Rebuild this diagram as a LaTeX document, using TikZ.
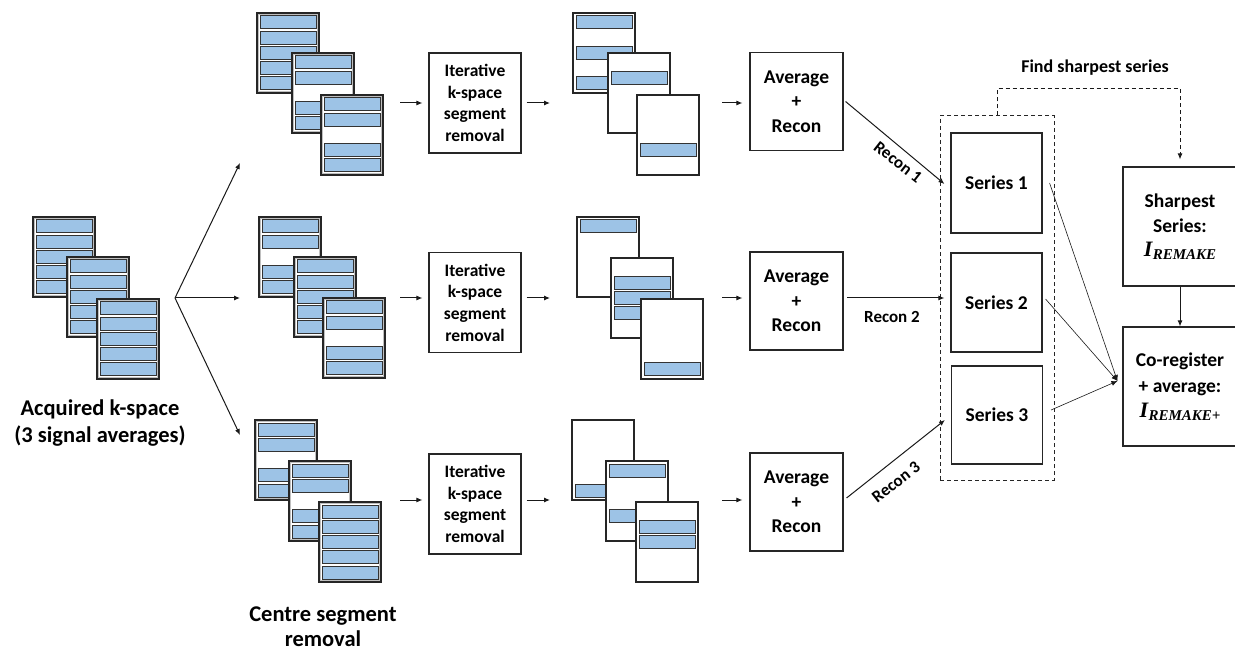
\documentclass[tikz,border=0pt]{standalone}
\usepackage{fontspec}
\setmainfont{Carlito}
\newfontfamily\tnr{Liberation Serif}
\usetikzlibrary{arrows.meta,calc}
\definecolor{kblue}{HTML}{9DC3E6}
\tikzset{
  stripe/.style={draw=black!80, line width=1pt, fill=kblue},
  pgborder/.style={draw=black!85, line width=1.1pt},
  pginner/.style={draw=gray!50, line width=1.5pt},
  box/.style={draw=black!85, line width=1.1pt, fill=white, align=center, inner sep=0pt, font=\bfseries},
  arr/.style={-{Latex[length=6pt,width=5pt]}, line width=1pt, black!90},
  thinarr/.style={-{Latex[length=6pt,width=5pt]}, line width=0.6pt, black!90},
  lbl/.style={font=\bfseries, align=center, inner sep=0pt},
  dashline/.style={dash pattern=on 4pt off 3pt},
}
% #1 x, #2 y (top-left), #3 stripe list, #4 1 = double border
\newcommand{\kpg}[4]{%
  \fill[white] (#1,#2) rectangle ++(62,80);
  \ifnum#4=1 \draw[pginner] (#1+1.6,#2+1.6) rectangle ++(58.8,76.8);\fi
  \foreach \k in {#3} {\draw[stripe] (#1+3,#2+3+15.25*\k-15.25) rectangle ++(56,13);}
  \draw[pgborder] (#1,#2) rectangle ++(62,80);
}
\newcommand{\iremake}[1]{{\tnr\bfseries\itshape\fontsize{22}{22}\selectfont I\kern0.5pt\raisebox{-3.5pt}{\fontsize{15}{15}\selectfont REMAKE#1}}}
\begin{document}
\begin{tikzpicture}[x=1pt,y=-1pt]
\useasboundingbox (0,0) rectangle (1235,652);

% acquired stack
\kpg{33}{217}{1,2,3,4,5}{1}
\kpg{67}{257}{1,2,3,4,5}{1}
\kpg{97}{299}{1,2,3,4,5}{1}
\node[lbl, font=\bfseries\fontsize{22.5}{27}\selectfont] (acq) at (100,423) {Acquired k-space\\(3 signal averages)};

% fork
\coordinate (fk) at (175,298);
\coordinate (f1) at (240,163);
\coordinate (f2) at (240,298);
\coordinate (f3) at (240,435);
\draw[arr] (fk) -- (f1);
\draw[arr] (fk) -- (f2);
\draw[arr] (fk) -- (f3);

% row 1 stacks
\kpg{257}{13}{1,2,3,4,5}{1}
\kpg{292}{53}{1,2,4,5}{1}
\kpg{321}{95}{1,2,4,5}{1}
\kpg{573}{13}{1,3,5}{0}
\kpg{608}{53}{2}{0}
\kpg{637}{95}{4}{0}
% row 2 stacks
\kpg{259}{217}{1,2,4,5}{1}
\kpg{294}{257}{1,2,3,4,5}{1}
\kpg{323}{298}{1,2,4,5}{1}
\kpg{577}{217}{1}{0}
\kpg{611}{258}{2,3,4}{0}
\kpg{641}{299}{5}{0}
% row 3 stacks
\kpg{255}{420}{1,2,4,5}{1}
\kpg{289}{461}{1,2,4,5}{1}
\kpg{319}{502}{1,2,3,4,5}{1}
\kpg{572}{420}{5}{0}
\kpg{606}{461}{1,4}{0}
\kpg{636}{502}{2,3}{0}

\node[lbl, font=\bfseries\fontsize{22.5}{25}\selectfont] (csr) at (323,627) {Centre segment\\removal};

% iterative boxes
\foreach \i/\yy in {1/103,2/302.5,3/504}{
  \node[box, minimum width=92pt, minimum height=100pt, font=\bfseries\fontsize{17.5}{21.7}\selectfont] (it\i) at (475,\yy) {Iterative\\k-space\\segment\\removal};
}
% average boxes
\foreach \i/\yy in {1/101.5,2/301,3/502}{
  \node[box, minimum width=93pt, minimum height=98pt, font=\bfseries\fontsize{19.5}{24.5}\selectfont] (av\i) at (796.5,\yy) {Average\\+\\Recon};
}
% small arrows
\foreach \i/\yy in {1/103,2/298,3/500}{
  \coordinate (pa\i) at (400,\yy);
  \coordinate (pb\i) at (550,\yy);
  \coordinate (pc\i) at (722,\yy);
  \draw[arr] (pa\i) -- ($(pa\i -| it\i.west)+(-6,0)$);
  \draw[arr] ($(pb\i -| it\i.east)+(5,0)$) -- (pb\i);
  \draw[arr] (pc\i) -- ($(pc\i -| av\i.west)+(-7,0)$);
}

% series boxes
\node[draw=black!85, dashline, line width=1pt, minimum width=114pt, minimum height=364pt, inner sep=0pt] (dash) at (997,298) {};
\node[box, minimum width=91pt, minimum height=100pt, font=\bfseries\fontsize{19.5}{24}\selectfont] (s1) at (996.5,183) {Series 1};
\node[box, minimum width=91pt, minimum height=99pt, font=\bfseries\fontsize{19.5}{24}\selectfont] (s2) at (996.5,302.5) {Series 2};
\node[box, minimum width=91pt, minimum height=98pt, font=\bfseries\fontsize{19.5}{24}\selectfont] (s3) at (997,415) {Series 3};

% recon arrows
\draw[arr] ($(av1.east)+(2,0)$) -- ($(s1.west)+(-6,1)$);
\node[lbl, font=\bfseries\fontsize{17}{20}\selectfont, rotate=-38] (r1) at (898,162) {Recon 1};
\coordinate (r2s) at (847,298);
\draw[arr] (r2s) -- ($(r2s -| s2.west)+(-6,0)$);
\node[lbl, font=\bfseries\fontsize{17}{20}\selectfont] (r2) at (892,317) {Recon 2};
\draw[arr] ($(av3.east)+(3,-4)$) -- ($(s3.west)+(-6,5)$);
\node[lbl, font=\bfseries\fontsize{17}{20}\selectfont, rotate=38] (r3) at (896,482) {Recon 3};

% right boxes
\node[box, minimum width=114pt, minimum height=119pt, font=\bfseries\fontsize{19.5}{25}\selectfont] (sharp) at (1180,226.5) {Sharpest\\Series:\\[-1pt]\iremake{}};
\node[box, minimum width=114pt, minimum height=119pt, font=\bfseries\fontsize{19.5}{26}\selectfont] (coreg) at (1180,386.5) {Co-register\\+ average:\\[-1pt]\iremake{+}};

% find sharpest
\coordinate (fs1) at (997,89);
\coordinate (fs2) at (1180,89);
\draw[arr, dashline] (dash.north -| fs1) -- (fs1) -- (fs2) -- ($(sharp.north)+(0,-7)$);
\node[lbl, font=\bfseries\fontsize{18}{20}\selectfont] (fst) at (1095,68) {Find sharpest series};

\draw[arr] (sharp.south) -- (coreg.north);

% series to coreg
\coordinate (ct) at ($(coreg.west)+(-5,-5.5)$);
\draw[thinarr] ($(s1.east)+(7,0)$) -- (ct);
\draw[thinarr] ($(s2.east)+(3,-3.5)$) -- (ct);
\draw[thinarr] ($(s3.east)+(8,-5)$) -- (ct);
\end{tikzpicture}
\end{document}
